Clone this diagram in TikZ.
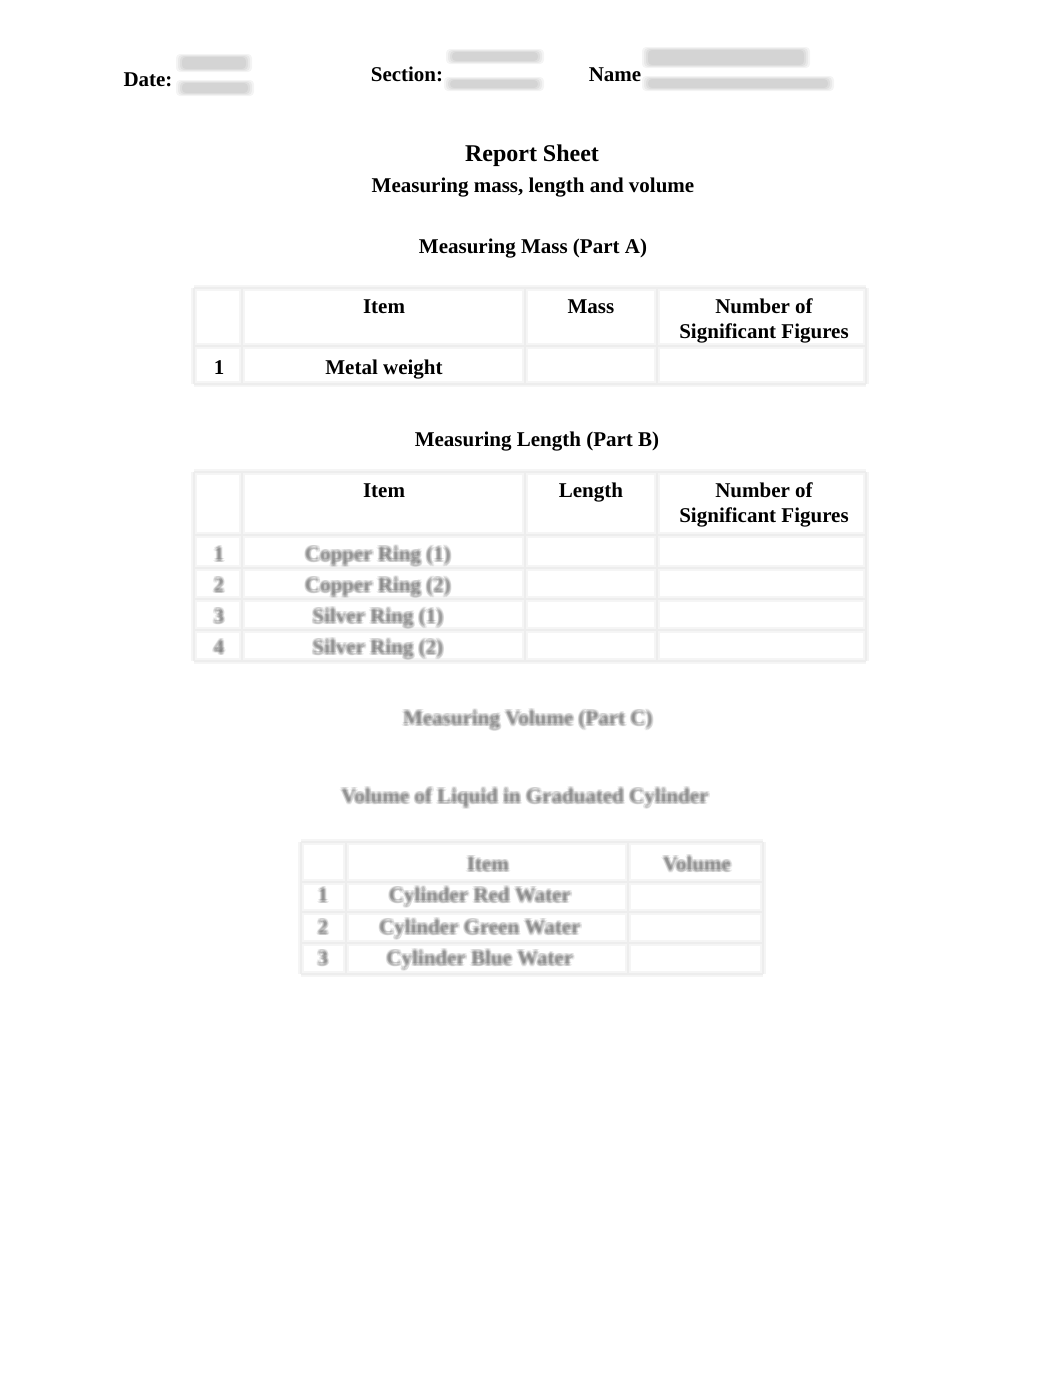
\documentclass[tikz,border=0pt]{standalone}
\usepackage{fontspec}
\setmainfont{Liberation Serif}
\begin{document}
\begin{tikzpicture}[x=1pt,y=-1pt,
  txt/.style={font=\fontsize{21}{25}\selectfont\bfseries, inner sep=0pt, anchor=base},
  big/.style={font=\fontsize{24}{28}\selectfont\bfseries, inner sep=0pt, anchor=base},
  blurtxt/.style={font=\fontsize{21}{25}\selectfont\bfseries, inner sep=0pt, anchor=base, text=black!70, text opacity=0.11},
  gridsoft/.style={line width=6pt, draw=black!4},
  gridline/.style={line width=2.5pt, draw=black!7},
  blurbar/.style={fill=black, fill opacity=0.045, rounded corners=4pt, draw=none}
]
\newcommand\blurtext[4]{%
  \foreach \dx/\dy [count=\k] in {-1.8/0,1.8/0,0/-1.8,0/1.8,-1.2/-1.2,1.2/1.2,-1.2/1.2,1.2/-1.2,0/0,-0.6/0.6}{
    \node[blurtxt, xshift=\dx pt, yshift=\dy pt] (#1-\k) at (#2,#3) {#4};
  }%
}
\newcommand\blurbox[5]{% name x1 y1 x2 y2
  \foreach \g [count=\k] in {0,2,4,6}{
    \path[blurbar] (#2+\g,#3+\g*0.5) rectangle (#4-\g,#5-\g*0.5);
  }%
  \coordinate (#1) at ({(#2+#4)/2},{(#3+#5)/2});
}
\fill[white] (0,0) rectangle (1062,1376);
\useasboundingbox (0,0) rectangle (1062,1376);

% header line
\node[txt] (date) at (148,86) {Date:};
\node[txt] (section) at (407,81) {Section:};
\node[txt] (name) at (615,81) {Name};
\blurbox{dateval}{176}{54}{252}{72}
\blurbox{dateul}{176}{80}{254}{96}
\blurbox{secval}{446}{49}{544}{64}
\blurbox{secul}{444}{77}{544}{91}
\blurbox{nameval}{642}{47}{810}{68}
\blurbox{nameul}{642}{76}{834}{91}

% titles
\node[big] (title) at (532,161) {Report Sheet};
\node[txt] (subtitle) at (533,192) {Measuring mass, length and volume};
\node[txt] (parta) at (533,253) {Measuring Mass (Part A)};

% table 1 grid
\foreach \s in {gridsoft,gridline}{
  \foreach \x in {194,242,525,657,866}{ \draw[\s] (\x,288) -- (\x,384); }
  \foreach \y in {288,346,384}{ \draw[\s] (194,\y) -- (866,\y); }
}
\node[txt] (t1item) at (384,313) {Item};
\node[txt] (t1mass) at (591,313) {Mass};
\node[txt] (t1num) at (764,313) {Number of};
\node[txt] (t1sig) at (764,338) {Significant Figures};
\node[txt] (t1one) at (219,374) {1};
\node[txt] (t1metal) at (384,374) {Metal weight};

% part B
\node[txt] (partb) at (537,446) {Measuring Length (Part B)};
\foreach \s in {gridsoft,gridline}{
  \foreach \x in {194,242,525,657,866}{ \draw[\s] (\x,472) -- (\x,661); }
  \foreach \y in {472,535,568,599,630,661}{ \draw[\s] (194,\y) -- (866,\y); }
}
\node[txt] (t2item) at (384,497) {Item};
\node[txt] (t2len) at (591,497) {Length};
\node[txt] (t2num) at (764,497) {Number of};
\node[txt] (t2sig) at (764,522) {Significant Figures};
\blurtext{t2n1}{219}{561}{1}
\blurtext{t2n2}{219}{592}{2}
\blurtext{t2n3}{219}{623}{3}
\blurtext{t2n4}{219}{654}{4}
\blurtext{t2r1}{378}{561}{Copper Ring (1)}
\blurtext{t2r2}{378}{592}{Copper Ring (2)}
\blurtext{t2r3}{378}{623}{Silver Ring (1)}
\blurtext{t2r4}{378}{654}{Silver Ring (2)}

% part C
\blurtext{partc}{528}{725}{Measuring Volume (Part C)}
\blurtext{volliq}{525}{803}{Volume of Liquid in Graduated Cylinder}
\foreach \s in {gridsoft,gridline}{
  \foreach \x in {301,346,628,763}{ \draw[\s] (\x,842) -- (\x,974); }
  \foreach \y in {842,882,912,943,974}{ \draw[\s] (301,\y) -- (763,\y); }
}
\blurtext{t3item}{488}{871}{Item}
\blurtext{t3vol}{697}{871}{Volume}
\blurtext{t3n1}{323}{902}{1}
\blurtext{t3n2}{323}{934}{2}
\blurtext{t3n3}{323}{965}{3}
\blurtext{t3r1}{480}{902}{Cylinder Red Water}
\blurtext{t3r2}{480}{934}{Cylinder Green Water}
\blurtext{t3r3}{480}{965}{Cylinder Blue Water}
\end{tikzpicture}
\end{document}
